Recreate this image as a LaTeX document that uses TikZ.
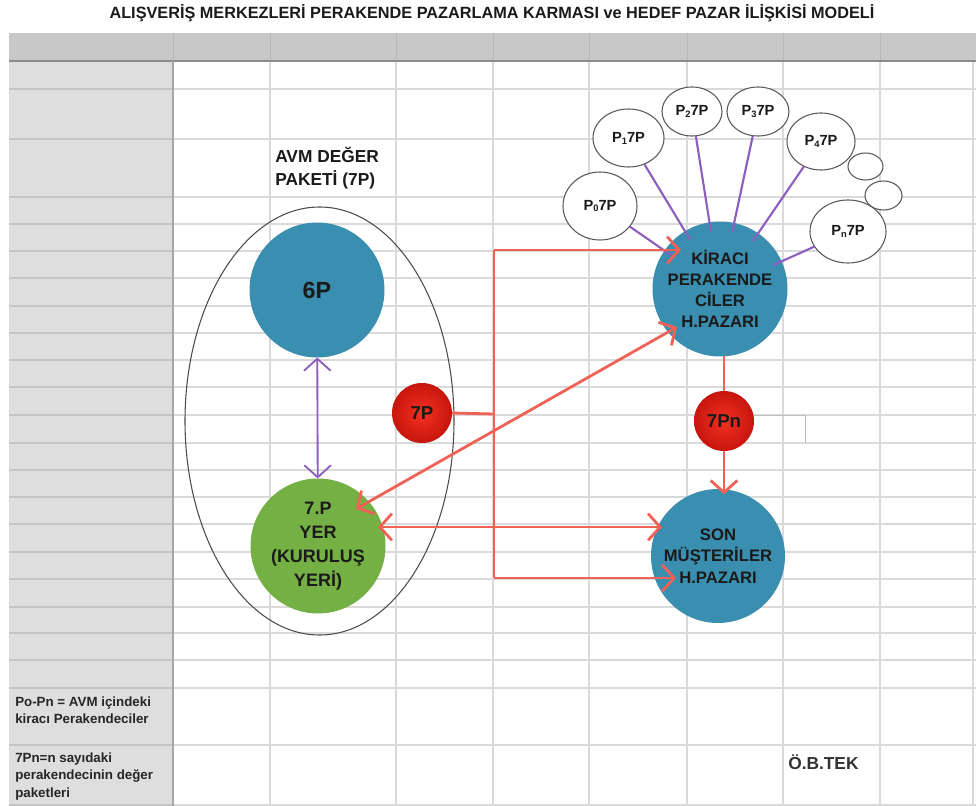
\documentclass[tikz,border=0pt]{standalone}
\usepackage{fontspec}
\setmainfont{Liberation Sans}
\usetikzlibrary{arrows.meta,shapes.geometric}
\definecolor{cblue}{RGB}{58,142,176}
\definecolor{cgreen}{RGB}{117,176,68}
\definecolor{credline}{RGB}{240,98,86}
\definecolor{credin}{RGB}{245,48,34}
\definecolor{credout}{RGB}{198,22,14}
\definecolor{cpurple}{RGB}{140,95,190}
\definecolor{cgrid}{RGB}{218,218,218}
\definecolor{cgridd}{RGB}{196,196,196}
\definecolor{chead}{RGB}{200,200,200}
\definecolor{cleft}{RGB}{222,222,222}
\definecolor{ctext}{RGB}{26,26,26}
\newcommand{\sbs}[1]{\raisebox{-0.25ex}{\fontsize{7}{8}\selectfont #1}}
\begin{document}
\begin{tikzpicture}[x=0.75pt,y=-0.75pt,
  >={Straight Barb[length=9pt,width=20pt]},
  gridline/.style={draw=cgrid,line width=0.8pt},
  gridlined/.style={draw=cgridd,line width=0.8pt},
  bigcirc/.style={circle,inner sep=0pt,outer sep=0pt,minimum size=101.25pt,text=ctext,align=center,
     font=\bfseries\fontsize{12.5}{15.9}\selectfont},
  redball/.style={circle,inner sep=0pt,outer sep=0pt,minimum size=45pt,shading=radial,
     inner color=credin,outer color=credout,text=ctext,font=\bfseries\fontsize{14}{16}\selectfont},
  pcirc/.style={ellipse,draw=black!65,line width=0.8pt,fill=white,inner sep=0pt,outer sep=0pt,
     text=ctext,font=\bfseries\fontsize{11}{13}\selectfont},
  pline/.style={draw=cpurple,line width=1.6pt,shorten >=-7pt},
  redline/.style={draw=credline,line width=2.1pt},
  purparrow/.style={draw=cpurple,line width=1.4pt}
]
\useasboundingbox (0,0) rectangle (976,806);
% ---------- spreadsheet grid ----------
\fill[chead] (9,33) rectangle (976,61);
\fill[cleft] (9,61) rectangle (173,806);
\foreach \y in {89,139,197,224,251,278,306,333,360,387,415,443,470,497,524,552,579,607,633,660,688,745,805}{
  \draw[gridline] (173,\y) -- (976,\y);
  \draw[gridlined] (9,\y) -- (173,\y);
}
\foreach \x in {270,396,493,589,687,783,880,973}{
  \draw[gridline] (\x,61) -- (\x,806);
}
\foreach \x in {173,270,396,493,589,687,783,880}{
  \draw[draw=black!28,line width=0.6pt] (\x,33) -- (\x,61);
}
\draw[draw=black!45,line width=1.2pt] (9,61) -- (976,61);
\draw[draw=black!35,line width=1pt] (173,61) -- (173,806);
\draw[draw=black!25,line width=0.7pt] (754,415) -- (805,415) -- (805,443);
% ---------- title ----------
\node[anchor=base,font=\bfseries\fontsize{12.2}{14}\selectfont,text=ctext,inner sep=0pt] (title) at (492,19)
  {ALIŞVERİŞ MERKEZLERİ PERAKENDE PAZARLAMA KARMASI ve HEDEF PAZAR İLİŞKİSİ MODELİ};
% ---------- left block ----------
\node[anchor=base west,align=left,inner sep=0pt,text=ctext,font=\bfseries\fontsize{13}{17.25}\selectfont] (avmlbl) at (275,186)
  {AVM DEĞER\\PAKETİ (7P)};
\node[ellipse,draw=black!70,line width=0.8pt,minimum width=201.75pt,minimum height=321pt,inner sep=0pt] (avm) at (319.5,421) {};
\node[bigcirc,fill=cblue,font=\bfseries\fontsize{17.5}{20}\selectfont] (sixp) at (317,290) {6P};
\node[bigcirc,fill=cgreen,font=\bfseries\fontsize{13.5}{18}\selectfont] (yer) at (318,546) {7.P\\YER\\(KURULUŞ\\YERİ)};
\node[redball] (sevenp) at (422,413) {7P};
% ---------- right block ----------
\node[bigcirc,fill=cblue] (kir) at (720,289) {KİRACI\\PERAKENDE\\CİLER\\H.PAZARI};
\node[bigcirc,fill=cblue,minimum size=100.5pt,font=\bfseries\fontsize{12.5}{16.3}\selectfont] (son) at (718,556) {SON\\MÜŞTERİLER\\H.PAZARI};
\node[redball] (sevenpn) at (724,421) {7Pn};
% small retailer circles
\node[pcirc,minimum width=55.5pt,minimum height=51pt] (p0) at (600,206) {P\sbs{0}7P};
\node[pcirc,minimum width=53.25pt,minimum height=43.5pt] (p1) at (628.5,138) {P\sbs{1}7P};
\node[pcirc,minimum width=45pt,minimum height=36.75pt] (p2) at (692,111.5) {P\sbs{2}7P};
\node[pcirc,minimum width=46.5pt,minimum height=36.75pt] (p3) at (758,111.5) {P\sbs{3}7P};
\node[pcirc,minimum width=51pt,minimum height=42.75pt] (p4) at (821,141.5) {P\sbs{4}7P};
\node[pcirc,minimum width=26.25pt,minimum height=20.25pt] (s1) at (865.5,166.5) {};
\node[pcirc,minimum width=27.75pt,minimum height=21.75pt] (s2) at (883.5,195.5) {};
\node[pcirc,minimum width=57pt,minimum height=47.25pt] (pn) at (848,231.5) {P\sbs{n}7P};
\foreach \p in {p0,p1,p2,p3,p4,pn}{ \draw[pline] (\p) -- (kir); }
% ---------- connectors ----------
\draw[purparrow,<->] (sixp) -- (yer);
\coordinate (jn) at (494,414);
\coordinate (vtop) at (494,250);
\coordinate (vbot) at (494,578);
\coordinate (kirA) at (681,250);
\coordinate (sonB) at (676,578);
\coordinate (yerH) at (378,527);
\coordinate (sonH) at (662,527);
\coordinate (yerD) at (356,509);
\coordinate (kirD) at (677,327);
\draw[redline] (sevenp.east) -- (jn);
\draw[redline] (vtop) -- (vbot);
\draw[redline,->] (vtop) -- (kirA);
\draw[redline,->] (vbot) -- (sonB);
\draw[redline,<->] (yerH) -- (sonH);
\draw[redline,<->] (yerD) -- (kirD);
\draw[redline] (kir.south -| sevenpn) -- (sevenpn);
\draw[redline,->,shorten >=-4pt] (sevenpn) -- (sevenpn |- son.north);
% ---------- notes ----------
\node[anchor=base west,align=left,inner sep=0pt,text=black!85,font=\bfseries\fontsize{10}{12.2}\selectfont] (note1) at (15,723)
  {Po-Pn = AVM içindeki\\kiracı Perakendeciler};
\node[anchor=base west,align=left,inner sep=0pt,text=black!85,font=\bfseries\fontsize{10}{13}\selectfont] (note2) at (15,797)
  {7Pn=n sayıdaki\\perakendecinin değer\\paketleri};
\node[anchor=base west,inner sep=0pt,text=black!80,font=\bfseries\fontsize{13}{15}\selectfont] (author) at (788,769) {Ö.B.TEK};
\end{tikzpicture}
\end{document}
